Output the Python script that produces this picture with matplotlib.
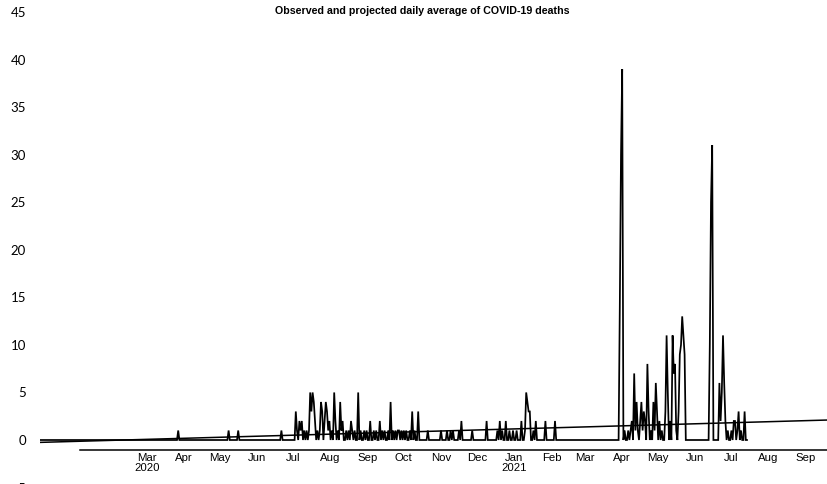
import matplotlib
matplotlib.use("Agg")
import matplotlib.pyplot as plt
import matplotlib.dates as mdates
import pandas as pd

title = "Observed and projected daily average of COVID-19 deaths"

series_start = "2019-12-03"
series_end = "2021-07-14"

# isolated single-day observations
single_dates = ["2020-03-27", "2020-05-08", "2020-05-16", "2020-06-21",
                "2020-10-21", "2020-11-01", "2020-11-06", "2020-11-09",
                "2020-11-11", "2020-11-16", "2020-11-18", "2020-11-27",
                "2020-12-09", "2021-01-27", "2021-02-04"]
single_values = [1, 1, 1, 1, 1, 1, 1, 1, 1, 1, 2, 1, 2, 2, 2]

# consecutive daily observations of each wave
wave1_start = "2020-07-02"
wave1_values = [0, 3, 1, 0, 2, 1, 2, 0, 1, 0,
                1, 0, 1, 5, 3, 5, 4, 2, 0, 1,
                0, 1, 4, 3, 0, 2, 4, 3, 1, 2,
                0, 1, 0, 5, 2, 0, 1, 0, 4, 1,
                2, 0, 0, 1, 0, 1, 0, 2, 1, 0,
                1, 0, 0, 5, 0, 1, 0, 0, 1, 0,
                1, 0, 0, 2, 0, 0, 1, 0, 1, 0,
                0, 2, 0, 1, 0, 1, 0, 0, 1, 0,
                4, 0, 1, 0, 1, 0, 1, 1, 0, 1,
                0, 1, 0, 1, 0, 0, 1, 0, 3, 0,
                1, 0, 0, 3, 0]

wave2_start = "2020-12-17"
wave2_values = [0, 1, 0, 2, 0, 1, 0, 0, 2, 0,
                0, 1, 0, 0, 1, 0, 0, 1, 0, 0,
                0, 2, 0, 0, 1, 5, 4, 3, 3, 0,
                0, 1, 0, 2, 0]

wave3_start = "2021-03-29"
wave3_values = [0, 14, 30, 39, 0, 1, 0, 0, 1, 0,
                1, 2, 0, 7, 1, 4, 1, 0, 2, 4,
                1, 3, 2, 0, 8, 3, 0, 1, 0, 4,
                1, 6, 3, 0, 2, 0, 1, 0, 0, 3,
                11, 5, 0, 2, 0, 11, 7, 8, 1, 0,
                3, 9, 10, 13, 11, 9, 0]

wave4_start = "2021-06-12"
wave4_values = [0, 10, 25, 31, 0, 0, 0, 0, 0, 6,
                2, 5, 11, 6, 2, 0, 1, 0, 0, 1,
                0, 2, 2, 0, 1, 3, 0, 1, 0, 0,
                3, 0, 0]

# projected trend
trend_dates = ["2019-12-03", "2021-09-19"]
trend_values = [-0.25, 2.1]

tick_dates = ["2020-03-01", "2020-04-01", "2020-05-01", "2020-06-01", "2020-07-01",
              "2020-08-01", "2020-09-01", "2020-10-01", "2020-11-01", "2020-12-01",
              "2021-01-01", "2021-02-01", "2021-03-01", "2021-04-01", "2021-05-01",
              "2021-06-01", "2021-07-01", "2021-08-01", "2021-09-01"]
tick_labels = ["Mar\n2020", "Apr", "May", "Jun", "Jul", "Aug", "Sep", "Oct", "Nov",
               "Dec", "Jan\n2021", "Feb", "Mar", "Apr", "May", "Jun", "Jul", "Aug", "Sep"]
y_ticks = [45, 40, 35, 30, 25, 20, 15, 10, 5, 0, -5]

# ---- assemble daily series (baseline 0 as seen in the picture) ----
idx = pd.date_range(series_start, series_end, freq="D")
obs = pd.Series(0.0, index=idx)
for d, v in zip(single_dates, single_values):
    obs[pd.Timestamp(d)] = v
for start, vals in [(wave1_start, wave1_values), (wave2_start, wave2_values),
                    (wave3_start, wave3_values), (wave4_start, wave4_values)]:
    rng = pd.date_range(start, periods=len(vals), freq="D")
    obs[rng] = vals

W, H = 827, 484
fig = plt.figure(figsize=(W / 100, H / 100), dpi=100)
px_per_unit = 9.51
y0_px = 440.0
ymin, ymax = -5.5, 46
top_px = y0_px - ymax * px_per_unit
bot_px = y0_px - ymin * px_per_unit
ax = fig.add_axes([40 / W, (H - bot_px) / H, 787 / W, (bot_px - top_px) / H])
ax.set_ylim(ymin, ymax)

origin = mdates.date2num(pd.Timestamp("2020-03-01"))
px_per_day = 1.2
ax.plot(mdates.date2num(obs.index), obs.values, color="black", lw=1.25,
        solid_joinstyle="miter")
ax.plot(mdates.date2num(pd.to_datetime(trend_dates)), trend_values,
        color="black", lw=1.1)
ax.set_xlim(origin + (40 - 147) / px_per_day, origin + (827 - 147) / px_per_day)

for s in ["top", "right", "left"]:
    ax.spines[s].set_visible(False)
ax.spines["bottom"].set_position(("data", -1.05))
ax.spines["bottom"].set_bounds(origin + (80 - 147) / px_per_day,
                               origin + (827 - 147) / px_per_day)
ax.spines["bottom"].set_linewidth(1.1)

ax.set_xticks(mdates.date2num(pd.to_datetime(tick_dates)))
ax.set_xticklabels(tick_labels, fontsize=8.2, family="Liberation Sans",
                   linespacing=1.05)
ax.tick_params(axis="x", length=0, pad=2)

ax.set_yticks(y_ticks)
ax.set_yticklabels([str(v) for v in y_ticks], fontsize=9.5, family="Lato")
ax.tick_params(axis="y", length=0, pad=10)

fig.text(422 / W, 1 - 11 / H, title, ha="center", va="center",
         fontsize=7.7, fontweight="bold", family="Liberation Sans")

fig.savefig("out.png", dpi=100)
